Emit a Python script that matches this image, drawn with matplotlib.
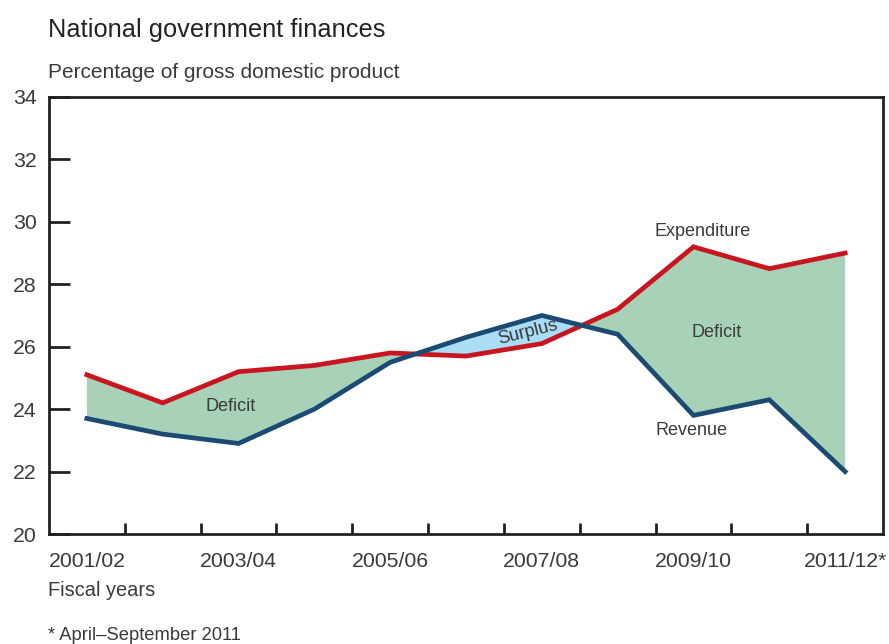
import numpy as np
import matplotlib
matplotlib.use("Agg")
import matplotlib.pyplot as plt

plt.rcParams['font.family'] = ['Liberation Sans', 'DejaVu Sans']

years = ["2001/02", "2002/03", "2003/04", "2004/05", "2005/06", "2006/07",
         "2007/08", "2008/09", "2009/10", "2010/11", "2011/12*"]
expenditure = [25.1, 24.2, 25.2, 25.4, 25.8, 25.7, 26.1, 27.2, 29.2, 28.5, 29.0]
revenue = [23.7, 23.2, 22.9, 24.0, 25.5, 26.3, 27.0, 26.4, 23.8, 24.3, 22.0]
tick_labels = ["2001/02", "2003/04", "2005/06", "2007/08", "2009/10", "2011/12*"]

txt = "#3a3a3a"
red = "#c8151f"
blue = "#1b4a72"
green = "#a8d2b8"
light_blue = "#a9def6"

fig = plt.figure(figsize=(8.89, 6.44), dpi=100)
ax = fig.add_axes([0.0551, 0.1708, 0.9382, 0.6786])

x = np.arange(len(years))
exp = np.array(expenditure)
rev = np.array(revenue)

ax.fill_between(x, rev, exp, where=exp >= rev, interpolate=True, color=green, lw=0)
ax.fill_between(x, rev, exp, where=rev >= exp, interpolate=True, color=light_blue, lw=0)
ax.plot(x, exp, color=red, lw=3.4, solid_joinstyle="miter")
ax.plot(x, rev, color=blue, lw=3.4, solid_joinstyle="miter")

ax.set_xlim(-0.5, len(years) - 0.5)
ax.set_ylim(20, 34)
ax.set_yticks(range(20, 35, 2))

# minor ticks between years, labels every second year
ax.set_xticks(np.arange(0.5, len(years) - 1, 1.0))
ax.set_xticklabels([])
ax.set_xticks(x[::2], minor=True)
ax.set_xticklabels(tick_labels, minor=True)
ax.tick_params(axis="x", which="minor", length=0, pad=13, labelsize=15.3, labelcolor=txt)
ax.tick_params(axis="x", which="major", direction="in", length=8, width=2, color="#222")
ax.tick_params(axis="y", direction="in", length=15, width=2, color="#222",
               pad=9, labelsize=15.3, labelcolor=txt)
ax.tick_params(right=False, top=False)

for s in ax.spines.values():
    s.set_linewidth(2)
    s.set_color("#222")

fs = 13
ax.text(1.9, 24.1, "Deficit", fontsize=fs, color=txt, ha="center", va="center")
ax.text(8.3, 26.45, "Deficit", fontsize=fs, color=txt, ha="center", va="center")
ax.text(5.82, 26.45, "Surplus", fontsize=fs, color=txt, ha="center", va="center", rotation=14)
ax.text(8.12, 29.68, "Expenditure", fontsize=fs, color=txt, ha="center", va="center")
ax.text(7.98, 23.33, "Revenue", fontsize=fs, color=txt, ha="center", va="center")

fig.text(0.054, 1 - 30 / 644, "National government finances", fontsize=18.3, color="#222", va="center")
fig.text(0.054, 1 - 73 / 644, "Percentage of gross domestic product", fontsize=15, color=txt, va="center")
fig.text(0.054, 1 - 591 / 644, "Fiscal years", fontsize=14.4, color=txt, va="center")
fig.text(0.054, 1 - 627 / 644, "* April\u2013September 2011", fontsize=13.2, color=txt, va="top")

fig.savefig("out.png", dpi=100)
